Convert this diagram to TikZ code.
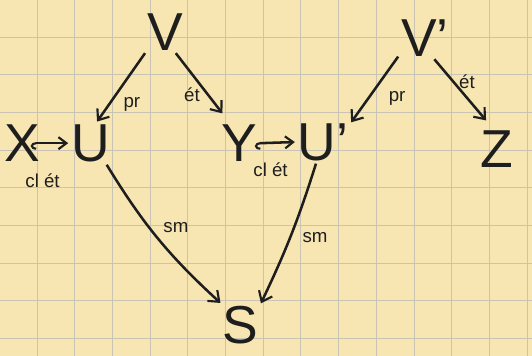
\documentclass[tikz,border=0pt]{standalone}
\usepackage{fontspec}
\setmainfont{Liberation Sans}
\usetikzlibrary{arrows.meta}

\definecolor{paper}{HTML}{F8E6B2}
\definecolor{gridc}{HTML}{C9C3B4}
\definecolor{ink}{HTML}{1E1E1E}

\begin{document}
\begin{tikzpicture}[
    obj/.style={font=\fontsize{40}{44}\selectfont, text=ink, inner sep=2pt},
    lbl/.style={font=\fontsize{14}{16}\selectfont, text=ink, inner sep=1pt},
    map/.style={-{Straight Barb[length=7pt,width=11pt,line width=1.6pt]}, line width=1.9pt, draw=ink},
    incl/.style={map, {Hooks[left,length=4pt,width=10pt,line width=1.6pt]}-{Straight Barb[length=6pt,width=9pt,line width=1.6pt]}},
    gridline/.style={gridc, line width=0.6pt},
]
% paper
\fill[paper] (0,0) rectangle (14,9.368);
\useasboundingbox (0,0) rectangle (14,9.368);
\foreach \k in {0,...,13}
    \draw[gridline] ({0.974+0.992*\k},0) -- ++(0,9.368);
\foreach \k in {0,...,8}
    \draw[gridline] (0,{8.395-0.992*\k}) -- ++(14,0);

% objects
\node[obj] (V) at (4.34,8.53) {V};
\node[obj] (Vp) at (11.18,8.37) {V'};
\node[obj] (X) at (0.58,5.6) {X};
\node[obj] (U) at (2.38,5.6) {U};
\node[obj] (Y) at (6.3,5.6) {Y};
\node[obj] (Up) at (8.5,5.63) {U'};
\node[obj] (Z) at (13.08,5.45) {Z};
\node[obj] (S) at (6.32,0.82) {S};

% maps
\draw[map] (V.227) -- (U.73);
\draw[map, shorten >=8pt] (V.-63) -- (Y.116);
\draw[map] (Vp.215) -- (Up.35);
\draw[map, shorten >=7pt] (Vp.-66) -- (Z.103);
\draw[incl, shorten <=-9pt] (X.east) -- (U.west);
\draw[incl, shorten <=-4pt] (Y.east) -- (Up.west);
\draw[map] (U.-53) to[bend right=8] (S.132);
\draw[map] (Up.-108) to[bend left=4] (S.46);

% labels
\node[lbl] (l1) at (3.47,6.63) {pr};
\node[lbl] (l2) at (5.05,6.87) {ét};
\node[lbl] (l3) at (10.45,6.79) {pr};
\node[lbl] (l4) at (12.29,7.21) {ét};
\node[lbl] (l5) at (1.12,4.6) {cl ét};
\node[lbl] (l6) at (7.12,4.9) {cl ét};
\node[lbl] (l7) at (4.63,3.37) {sm};
\node[lbl] (l8) at (8.29,3.11) {sm};
\end{tikzpicture}
\end{document}
